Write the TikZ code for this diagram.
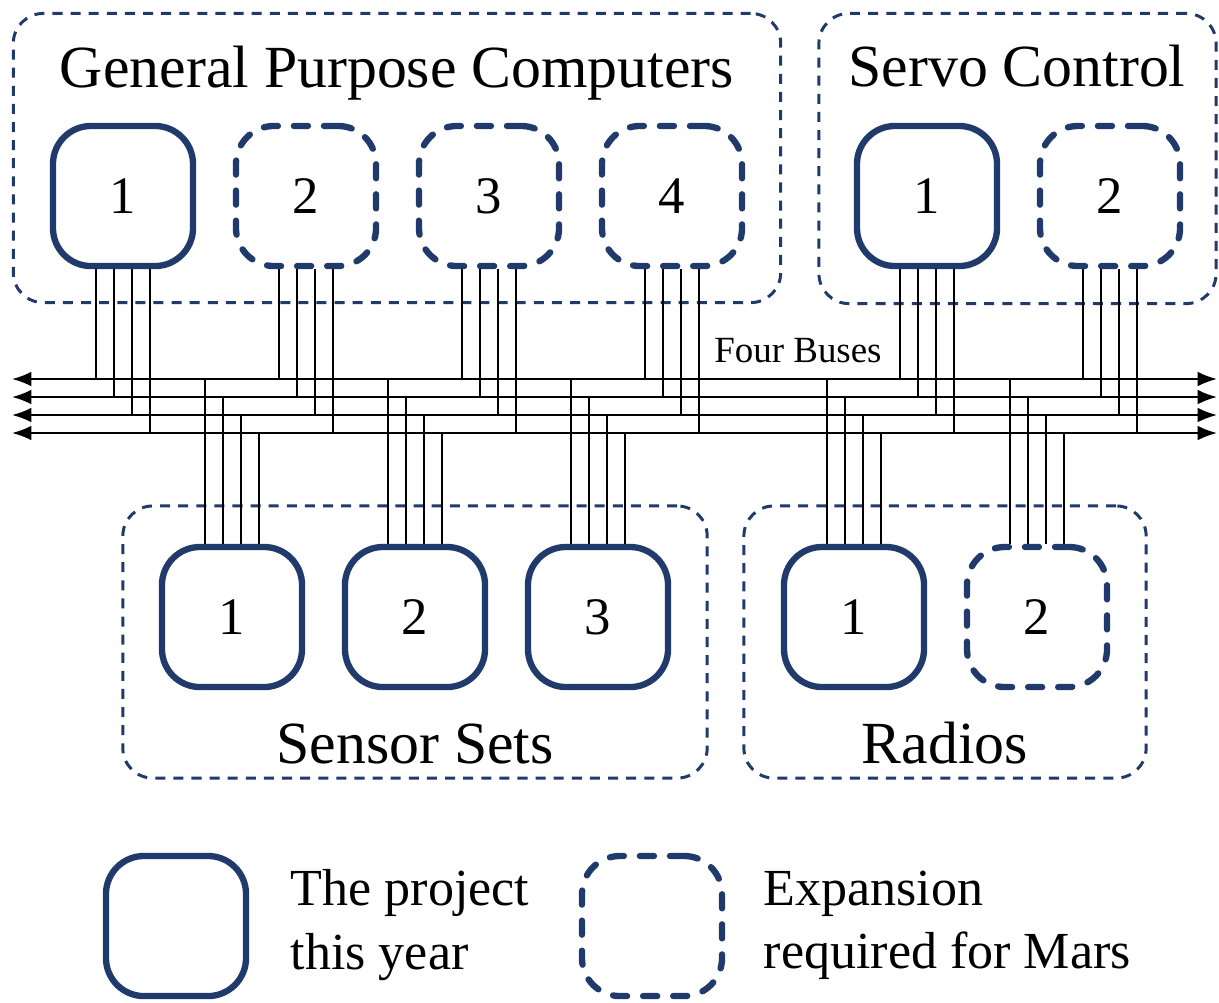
\documentclass[tikz,border=0pt]{standalone}
\usepackage{fontspec}
\setmainfont{Liberation Serif}
\usepackage{xcolor}
\usetikzlibrary{arrows.meta}
\definecolor{navy}{RGB}{31,58,107}
\tikzset{
  grp/.style={draw=navy,line width=0.85pt,dash pattern=on 2.85pt off 2.3pt,rounded corners=0.3cm,inner sep=0pt},
  pu/.style={draw=navy,line width=1.8pt,rounded corners=0.38cm,minimum size=1.40cm,inner sep=0pt,font=\fontsize{15}{18}\selectfont},
  xu/.style={pu,line cap=round,dash pattern=on 4pt off 4.55pt},
  ttl/.style={anchor=base,inner sep=0pt,font=\fontsize{17}{20}\selectfont},
  bus/.style={line width=0.6pt,{Latex[length=5.5pt,width=4.2pt]}-{Latex[length=5.5pt,width=4.2pt]}},
  wr/.style={line width=0.6pt},
  lgd/.style={anchor=west,align=left,inner sep=0pt,font=\fontsize{14.8}{18}\selectfont}
}
% four taps from a unit down to / up from the buses
\newcommand{\tapdn}[1]{\foreach \k/\dx in {1/-0.27,2/-0.09,3/0.09,4/0.27}
  \draw[wr] ([xshift=\dx cm]#1.south) -- ([xshift=\dx cm]#1.south |- bl\k);}
\newcommand{\tapup}[1]{\foreach \k/\dx in {1/-0.27,2/-0.09,3/0.09,4/0.27}
  \draw[wr] ([xshift=\dx cm]#1.north |- bl\k) -- ([xshift=\dx cm]#1.north);}

\begin{document}
\begin{tikzpicture}[x=0.01cm,y=-0.01cm]
\useasboundingbox (0,0) rectangle (1219,1002);
% groups
\node[grp,minimum width=7.67cm,minimum height=2.89cm] (gpc) at (397,158) {};
\node[grp,minimum width=3.97cm,minimum height=2.90cm] (svo) at (1017.5,158.5) {};
\node[grp,minimum width=5.84cm,minimum height=2.72cm] (sns) at (415,642) {};
\node[grp,minimum width=4.02cm,minimum height=2.72cm] (rad) at (945,642) {};
\node[ttl] (gpcT) at (397,87) {General Purpose Computers};
\node[ttl] (svoT) at (1017,86) {Servo Control};
\node[ttl] (snsT) at (415,763) {Sensor Sets};
\node[ttl] (radT) at (945,763) {Radios};
% units
\node[pu] (g1) at (123,196) {1};
\node[xu] (g2) at (306,196) {2};
\node[xu] (g3) at (489,196) {3};
\node[xu] (g4) at (672,196) {4};
\node[pu] (c1) at (927,196) {1};
\node[xu] (c2) at (1110,196) {2};
\node[pu] (s1) at (232,617) {1};
\node[pu] (s2) at (415,617) {2};
\node[pu] (s3) at (598,617) {3};
\node[pu] (r1) at (854,617) {1};
\node[xu] (r2) at (1037,617) {2};
% buses
\foreach \k/\y in {1/379,2/397,3/415,4/433} {
  \coordinate (bl\k) at (12,\y);
  \coordinate (br\k) at (1217,\y);
  \draw[bus] (bl\k) -- (br\k);
}
\node[anchor=base,inner sep=0pt,font=\fontsize{10.5}{12}\selectfont] (busT) at (798,362) {Four Buses};
\foreach \u in {g1,g2,g3,g4,c1,c2} {\tapdn{\u}}
\foreach \u in {s1,s2,s3,r1,r2} {\tapup{\u}}
% legend
\node[pu] (lgA) at (176,926) {};
\node[lgd] (lgAT) at (290,925) {The project\\this year};
\node[xu] (lgB) at (652,926) {};
\node[lgd] (lgBT) at (763,925) {Expansion\\required for Mars};
\end{tikzpicture}
\end{document}
